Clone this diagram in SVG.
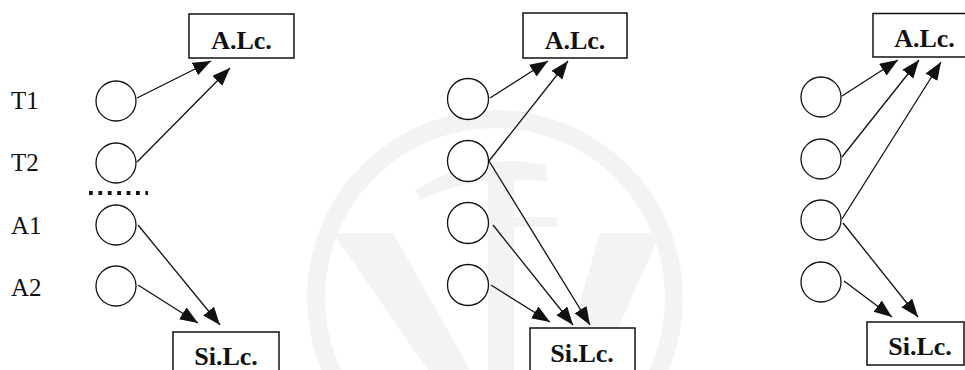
<svg xmlns="http://www.w3.org/2000/svg" width="965" height="370" viewBox="0 0 965 370">
  <defs>
    <marker id="arrow" markerUnits="userSpaceOnUse" markerWidth="20" markerHeight="16" refX="18" refY="7" orient="auto">
      <path d="M0,0 L18,7 L0,14 Z" fill="#111"/>
    </marker>
    <style>
      .node { fill: #fff; stroke: #111; stroke-width: 1.3; }
      .box { fill: #fff; stroke: #111; stroke-width: 1.5; }
      .box-label { font-family: "Liberation Serif", "Times New Roman", serif; font-weight: bold; font-size: 26px; fill: #111; text-anchor: middle; }
      .row-label { font-family: "Liberation Serif", "Times New Roman", serif; font-size: 25px; fill: #111; }
      .edge { stroke: #111; stroke-width: 1.3; fill: none; marker-end: url(#arrow); }
      .mark { fill: #f3f3f3; stroke: none; }
    </style>
  </defs>

  <rect width="965" height="370" fill="#fff"/>

  <!-- faint background emblem -->
  <g id="emblem">
    <circle cx="495" cy="298" r="179" fill="none" stroke="#f3f3f3" stroke-width="18"/>
    <polygon class="mark" points="333,233 393,233 470,370 428,370"/>
    <polygon class="mark" points="600,233 660,233 600,370 560,370"/>
    <rect class="mark" x="488" y="172" width="26" height="198"/>
    <path class="mark" d="M415,190 Q480,150 547,165 L547,182 Q480,172 420,200 Z"/>
    <rect class="mark" x="447" y="217" width="110" height="10"/>
  </g>

  <!-- row labels -->
  <g id="labels">
    <text class="row-label" x="11" y="109">T1</text>
    <text class="row-label" x="11" y="171">T2</text>
    <text class="row-label" x="11" y="234">A1</text>
    <text class="row-label" x="11" y="296">A2</text>
  </g>

  <!-- separator between T and A rows -->
  <line id="separator" x1="89" y1="193" x2="148" y2="193" stroke="#111" stroke-width="3.8" stroke-dasharray="3.8 5.6"/>

  <!-- connectors -->
  <g id="connectors">
    <!-- panel 1 -->
    <line class="edge" x1="137" y1="98" x2="211" y2="61"/>
    <line class="edge" x1="137" y1="162" x2="230" y2="68"/>
    <line class="edge" x1="138" y1="225" x2="220" y2="325"/>
    <line class="edge" x1="138" y1="285" x2="198" y2="323"/>
    <!-- panel 2 -->
    <line class="edge" x1="490" y1="98" x2="548" y2="61"/>
    <line class="edge" x1="489" y1="161" x2="568" y2="61"/>
    <line class="edge" x1="489" y1="161" x2="590" y2="325"/>
    <line class="edge" x1="493" y1="225" x2="573" y2="325"/>
    <line class="edge" x1="491" y1="285" x2="550" y2="322"/>
    <!-- panel 3 -->
    <line class="edge" x1="842" y1="96" x2="898" y2="60"/>
    <line class="edge" x1="842" y1="157" x2="919" y2="60"/>
    <line class="edge" x1="842" y1="219" x2="941" y2="62"/>
    <line class="edge" x1="843" y1="223" x2="918" y2="317"/>
    <line class="edge" x1="844" y1="281" x2="892" y2="317"/>
  </g>

  <!-- panel 1 nodes -->
  <g id="p1-alc"><rect class="box" x="189" y="14" width="105" height="44"/><text class="box-label" x="241.5" y="49">A.Lc.</text></g>
  <g id="p1-silc"><rect class="box" x="173" y="332" width="106" height="50"/><text class="box-label" x="226" y="365">Si.Lc.</text></g>
  <g id="p1-t1"><circle class="node" cx="116" cy="101" r="20"/></g>
  <g id="p1-t2"><circle class="node" cx="116" cy="163" r="20"/></g>
  <g id="p1-a1"><circle class="node" cx="116" cy="225" r="20"/></g>
  <g id="p1-a2"><circle class="node" cx="116" cy="286" r="20"/></g>

  <!-- panel 2 nodes -->
  <g id="p2-alc"><rect class="box" x="523" y="13" width="104" height="45"/><text class="box-label" x="575" y="49">A.Lc.</text></g>
  <g id="p2-silc"><rect class="box" x="530" y="328" width="105" height="50"/><text class="box-label" x="582" y="362">Si.Lc.</text></g>
  <g id="p2-t1"><circle class="node" cx="468" cy="99" r="20.5"/></g>
  <g id="p2-t2"><circle class="node" cx="468" cy="161" r="20.5"/></g>
  <g id="p2-a1"><circle class="node" cx="468" cy="223" r="20.5"/></g>
  <g id="p2-a2"><circle class="node" cx="468" cy="285" r="20.5"/></g>

  <!-- panel 3 nodes -->
  <g id="p3-alc"><rect class="box" x="873" y="13.5" width="95" height="43.5"/><text class="box-label" x="924.5" y="47">A.Lc.</text></g>
  <g id="p3-silc"><rect class="box" x="867" y="322" width="97" height="43"/><text class="box-label" x="920" y="355">Si.Lc.</text></g>
  <g id="p3-t1"><circle class="node" cx="821" cy="97" r="20"/></g>
  <g id="p3-t2"><circle class="node" cx="821" cy="159" r="20"/></g>
  <g id="p3-a1"><circle class="node" cx="821" cy="220" r="20"/></g>
  <g id="p3-a2"><circle class="node" cx="821" cy="282" r="20"/></g>
</svg>
